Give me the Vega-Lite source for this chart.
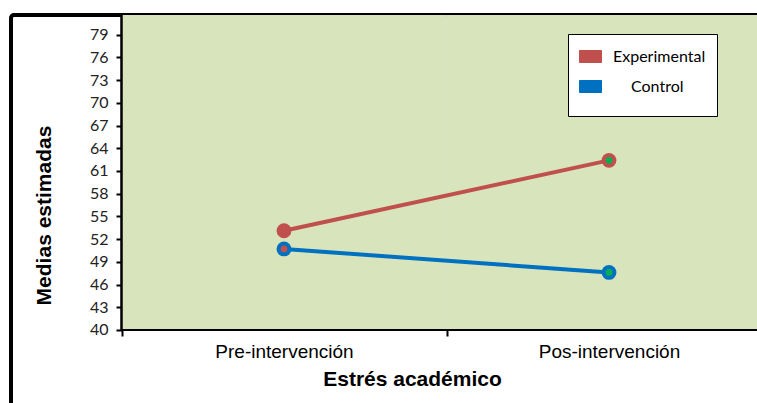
{
  "$schema": "https://vega.github.io/schema/vega-lite/v6.json",
  "width": 871,
  "height": 400,
  "autosize": {"type": "none"},
  "padding": {"left": 11, "top": 15, "right": 0, "bottom": 0},
  "background": "white",
  "config": {"view": {"stroke": "black", "strokeWidth": 4, "cornerRadius": 3}},
  "data": {"values": [
    {"fase": "Pre-intervención", "grupo": "Experimental", "media": 53.1},
    {"fase": "Pos-intervención", "grupo": "Experimental", "media": 62.4},
    {"fase": "Pre-intervención", "grupo": "Control", "media": 50.7},
    {"fase": "Pos-intervención", "grupo": "Control", "media": 47.6}
  ]},
  "encoding": {
    "x": {
      "field": "fase", "type": "nominal",
      "sort": ["Pre-intervención", "Pos-intervención"],
      "scale": {"paddingInner": 0, "paddingOuter": 0.34},
      "axis": {
        "orient": "bottom", "offset": -85, "domain": false, "tickBand": "extent",
        "tickColor": "black", "tickWidth": 2, "tickSize": 6,
        "labelFont": "Liberation Sans", "labelFontSize": 19, "labelColor": "black",
        "labelPadding": 6, "labelAngle": 0,
        "title": "Estrés académico", "titleFont": "Liberation Sans", "titleFontWeight": "bold",
        "titleFontSize": 21, "titleColor": "black", "titleX": 401, "titlePadding": 7
      }
    },
    "y": {
      "field": "media", "type": "quantitative",
      "scale": {"domain": [28.77, 81.6], "nice": false, "zero": false},
      "axis": {
        "orient": "left", "offset": -111, "domain": false, "grid": false,
        "values": [40, 43, 46, 49, 52, 55, 58, 61, 64, 67, 70, 73, 76, 79],
        "tickColor": "black", "tickWidth": 2, "tickSize": 6,
        "labelFont": "Lato", "labelFontSize": 16, "labelColor": "#222", "labelPadding": 8,
        "labelOverlap": false,
        "title": "Medias estimadas", "titleFont": "Liberation Sans", "titleFontWeight": "bold",
        "titleFontSize": 21, "titleColor": "black", "titlePadding": 35
      }
    },
    "color": {
      "field": "grupo", "type": "nominal",
      "scale": {"domain": ["Experimental", "Control"], "range": ["#C0504D", "#0070C0"]},
      "legend": {
        "title": "\u00a0", "titleOrient": "bottom", "titleFontSize": 8, "titlePadding": 2,
        "orient": "none", "legendX": 557, "legendY": 19,
        "fillColor": "white", "strokeColor": "black",
        "padding": 11, "rowPadding": 10,
        "symbolType": "M-1,-0.545H1V0.545H-1Z", "symbolSize": 484,
        "symbolStrokeColor": "black", "symbolStrokeWidth": 1,
        "labelFont": "Lato", "labelFontSize": 16, "labelColor": "black", "labelOffset": 11,
        "encode": {
          "symbols": {"update": {"stroke": {"value": "black"}, "strokeWidth": {"value": 1}}},
          "labels": {"update": {"dx": {"signal": "datum.label == 'Control' ? 18 : 0"}}}
        }
      }
    }
  },
  "layer": [
    {
      "mark": {"type": "rect"},
      "encoding": {
        "color": {"value": "#D8E4BC"},
        "y": {"datum": 40, "type": "quantitative"},
        "y2": {"datum": 81.6}
      }
    },
    {
      "mark": {"type": "rect"},
      "encoding": {
        "color": {"value": "black"},
        "y": {"datum": 40.13, "type": "quantitative"},
        "y2": {"datum": 39.87}
      }
    },
    {
      "transform": [{"filter": "datum.fase == 'Pre-intervención'"}],
      "mark": {"type": "rule", "strokeWidth": 2},
      "encoding": {
        "color": {"value": "black"},
        "x": {"field": "fase", "type": "nominal", "sort": ["Pre-intervención", "Pos-intervención"], "bandPosition": 0},
        "y": {"datum": 39.87, "type": "quantitative"},
        "y2": {"datum": 81.6}
      }
    },
    {
      "mark": {"type": "line", "strokeWidth": 4}
    },
    {
      "mark": {"type": "point", "filled": true, "size": 220, "opacity": 1}
    },
    {
      "mark": {"type": "point", "filled": true, "size": 45, "opacity": 1},
      "encoding": {
        "color": {
          "condition": {"test": "datum.fase == 'Pre-intervención'", "value": "#C0504D"},
          "value": "#00B050"
        }
      }
    }
  ]
}
